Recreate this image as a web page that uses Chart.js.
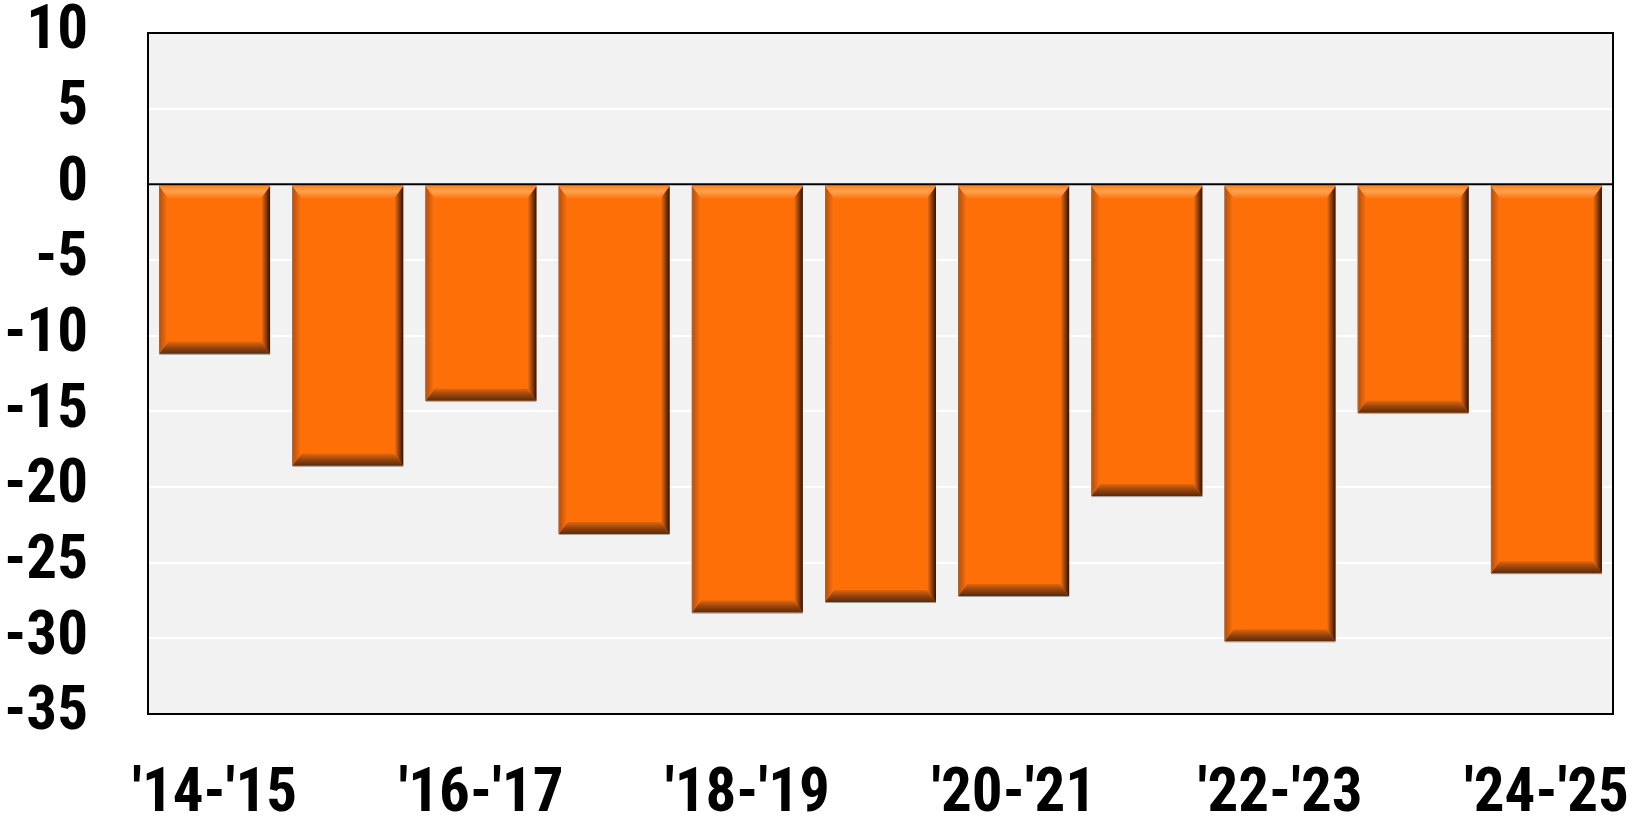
<!DOCTYPE html>
<html>
<head>
<meta charset="utf-8">
<script src="https://cdn.jsdelivr.net/npm/chart.js@4.4.1/dist/chart.umd.min.js"></script>
<style>
  html, body { margin: 0; padding: 0; background: #ffffff; }
  #wrap { width: 1640px; height: 819px; position: relative; }
</style>
</head>
<body>
<div id="wrap"><canvas id="c"></canvas></div>
<script>
const categories = ["'14-'15", "'15-'16", "'16-'17", "'17-'18", "'18-'19", "'19-'20", "'20-'21", "'21-'22", "'22-'23", "'23-'24", "'24-'25"];
const values = [-11.2, -18.6, -14.3, -23.1, -28.3, -27.6, -27.2, -20.6, -30.2, -15.1, -25.7];
const yMin = -35;
const yMax = 10;
const yStep = 5;

const FONT = "'Roboto Condensed', 'Liberation Sans Narrow', 'Arial Narrow', sans-serif";
const FONT_SIZE = 61;

const plotBg = {
  id: 'plotBg',
  beforeDraw(chart) {
    const a = chart.chartArea, ctx = chart.ctx;
    ctx.save();
    ctx.fillStyle = '#f2f2f2';
    ctx.fillRect(a.left, a.top, a.right - a.left, a.bottom - a.top);
    ctx.restore();
  }
};

const bevel = {
  id: 'bevel',
  afterDatasetsDraw(chart) {
    const ctx = chart.ctx;
    const meta = chart.getDatasetMeta(0);
    meta.data.forEach(el => {
      const p = el.getProps(['x', 'y', 'base', 'width'], true);
      const L = p.x - p.width / 2, R = p.x + p.width / 2;
      const T = Math.min(p.y, p.base) + 1, B = Math.max(p.y, p.base);
      const bt = 12, bs = 9, bb = 12;
      ctx.save();
      let g = ctx.createLinearGradient(0, T, 0, T + bt);
      g.addColorStop(0, '#ff8a2a'); g.addColorStop(0.45, '#ffa04c'); g.addColorStop(1, '#ff7612');
      ctx.fillStyle = g;
      ctx.beginPath(); ctx.moveTo(L, T); ctx.lineTo(R, T); ctx.lineTo(R - bs, T + bt); ctx.lineTo(L + bs, T + bt); ctx.closePath(); ctx.fill();
      g = ctx.createLinearGradient(0, B - bb, 0, B);
      g.addColorStop(0, '#e0660c'); g.addColorStop(0.5, '#94440f'); g.addColorStop(1, '#5e2a06');
      ctx.fillStyle = g;
      ctx.beginPath(); ctx.moveTo(L, B); ctx.lineTo(R, B); ctx.lineTo(R - bs, B - bb); ctx.lineTo(L + bs, B - bb); ctx.closePath(); ctx.fill();
      g = ctx.createLinearGradient(L, 0, L + bs, 0);
      g.addColorStop(0, '#b84c06'); g.addColorStop(1, '#ff7410');
      ctx.fillStyle = g;
      ctx.beginPath(); ctx.moveTo(L, T); ctx.lineTo(L + bs, T + bt); ctx.lineTo(L + bs, B - bb); ctx.lineTo(L, B); ctx.closePath(); ctx.fill();
      g = ctx.createLinearGradient(R - bs, 0, R, 0);
      g.addColorStop(0, '#ff7410'); g.addColorStop(0.4, '#b04c0c'); g.addColorStop(1, '#301202');
      ctx.fillStyle = g;
      ctx.beginPath(); ctx.moveTo(R, T); ctx.lineTo(R - bs, T + bt); ctx.lineTo(R - bs, B - bb); ctx.lineTo(R, B); ctx.closePath(); ctx.fill();
      ctx.strokeStyle = 'rgba(120,120,120,0.7)';
      ctx.lineWidth = 1;
      ctx.beginPath(); ctx.moveTo(L + 0.5, T); ctx.lineTo(L + 0.5, B + 0.5); ctx.lineTo(R, B + 0.5); ctx.stroke();
      ctx.restore();
    });
  }
};

const frame = {
  id: 'frame',
  afterDraw(chart) {
    const a = chart.chartArea, ctx = chart.ctx;
    const y0 = chart.scales.y.getPixelForValue(0);
    ctx.save();
    ctx.strokeStyle = '#000000';
    ctx.lineWidth = 2;
    ctx.beginPath(); ctx.moveTo(a.left, y0); ctx.lineTo(a.right, y0); ctx.stroke();
    ctx.strokeRect(a.left, a.top, a.right - a.left, a.bottom - a.top);
    ctx.restore();
  }
};

new Chart(document.getElementById('c'), {
  type: 'bar',
  data: {
    labels: categories,
    datasets: [{
      data: values,
      backgroundColor: '#ff6f08',
      borderWidth: 0,
      barPercentage: 0.833,
      categoryPercentage: 1.0
    }]
  },
  options: {
    responsive: true,
    maintainAspectRatio: false,
    animation: false,
    layout: { padding: { top: 33, right: 27, left: 0, bottom: 0 } },
    plugins: { legend: { display: false }, tooltip: { enabled: false } },
    scales: {
      x: {
        grid: { display: true, drawOnChartArea: false, drawTicks: true, tickLength: 51, color: 'rgba(0,0,0,0)', tickColor: 'rgba(0,0,0,0)' },
        border: { display: false },
        afterFit(s) { s.height = 105; },
        ticks: {
          autoSkip: false,
          maxRotation: 0,
          padding: 0,
          color: '#000000',
          font: { family: FONT, size: FONT_SIZE, weight: 'bold', lineHeight: 1 },
          callback(v, i) { return i % 2 === 0 ? categories[i] : ''; }
        }
      },
      y: {
        min: yMin,
        max: yMax,
        afterFit(s) { s.width = 148; },
        grid: { color: '#ffffff', lineWidth: 2, drawTicks: true, tickLength: 60, tickColor: 'rgba(0,0,0,0)' },
        border: { display: false },
        ticks: {
          stepSize: yStep,
          padding: 0,
          color: '#000000',
          font: { family: FONT, size: FONT_SIZE, weight: 'bold', lineHeight: 1 }
        }
      }
    }
  },
  plugins: [plotBg, bevel, frame]
});
</script>
</body>
</html>
